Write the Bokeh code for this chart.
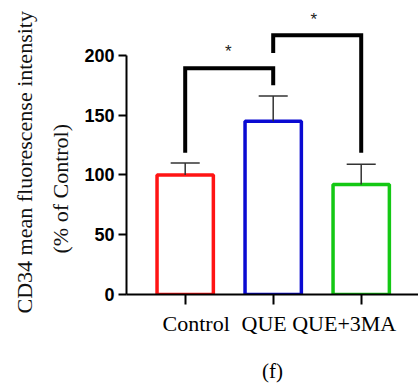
from bokeh.plotting import figure
from bokeh.models import Range1d, FixedTicker, LinearAxis, Title, ColumnDataSource
from bokeh.core.properties import value
from bokeh.embed import file_html
from bokeh.resources import INLINE

# ---- data ----
groups = ["Control", "QUE", "QUE+3MA"]
group_x = [1, 2, 3]
means = [100, 145, 92]
err_top = [110, 166, 109]
bar_colors = ["#ff1414", "#0a0ad2", "#14c814"]
y_ticks = [0, 50, 100, 150, 200]

# significance brackets
br_left = [1, 2]
br_right = [2, 3]
br_left_bottom = [118.6, 202]
br_top = [189.4, 217]
br_right_bottom = [175, 118.6]
star_x = [1.49, 2.46]
star_y = [203.5, 230.5]

# label nudges (pixels, layout only)
label_shift_px = [11, -9, -17]

PX_PER_UNIT = 88.0
p = figure(width=418, height=386, output_backend="svg", toolbar_location=None,
           x_range=Range1d(0.333, 3.651), y_range=Range1d(0, 246.0),
           min_border_left=126, min_border_right=0, min_border_top=0,
           min_border_bottom=92, x_axis_type=None)
p.outline_line_color = None
p.grid.visible = False
p.background_fill_color = "white"

# bars
src = ColumnDataSource(dict(x=group_x, top=means, color=bar_colors))
p.vbar(x="x", top="top", bottom=0, width=0.64, source=src, fill_color="white",
       line_color="color", line_width=3.5)

# error bars (upper only)
cap = 0.165
p.segment(x0=group_x, y0=means, x1=group_x, y1=err_top, line_color="#333333", line_width=1.5)
p.segment(x0=[x - cap for x in group_x], y0=err_top, x1=[x + cap for x in group_x],
          y1=err_top, line_color="#333333", line_width=1.5)

# brackets
xs = [[l, l, r, r] for l, r in zip(br_left, br_right)]
ys = [[lb, t, t, rb] for lb, t, rb in zip(br_left_bottom, br_top, br_right_bottom)]
p.multi_line(xs=xs, ys=ys, line_color="black", line_width=4, line_join="miter", line_cap="butt")
p.text(x=star_x, y=star_y, text=["*", "*"],
       text_font=value("Liberation Sans"), text_font_size="17px", text_align="center",
       text_baseline="middle", text_color="#222222")

# y axis
ya = p.yaxis[0]
ya.ticker = FixedTicker(ticks=y_ticks)
ya.bounds = (0, 200)
ya.axis_line_width = 2
ya.major_tick_line_width = 2
ya.major_tick_out = 8
ya.major_tick_in = 0
ya.minor_tick_line_color = None
ya.major_label_standoff = 4
ya.major_label_text_font = "Liberation Sans"
ya.major_label_text_font_style = "bold"
ya.major_label_text_font_size = "18px"
ya.major_label_text_color = "black"

# x axis: ticks only (labels not drawn)
xa = LinearAxis(ticker=FixedTicker(ticks=group_x))
xa.axis_line_width = 2
xa.major_tick_line_width = 2
xa.major_tick_out = 10
xa.major_tick_in = 0
xa.minor_tick_line_color = None
xa.major_label_text_font_size = "0px"
xa.major_label_text_color = None
xa.major_label_standoff = 0
p.add_layout(xa, "below")

# x labels axis, with the panel caption as its axis label
lab_pos = [x + s / PX_PER_UNIT for x, s in zip(group_x, label_shift_px)]
xl = LinearAxis(ticker=FixedTicker(ticks=lab_pos))
xl.axis_line_color = None
xl.major_tick_line_color = None
xl.minor_tick_line_color = None
xl.major_tick_out = 0
xl.major_tick_in = 0
xl.major_label_standoff = 6
xl.major_label_overrides = {pos: g for pos, g in zip(lab_pos, groups)}
xl.major_label_text_font = "Liberation Serif"
xl.major_label_text_font_size = "22px"
xl.major_label_text_color = "black"
xl.axis_label = "(f)"
xl.axis_label_standoff = 20
xl.axis_label_text_font = "Liberation Serif"
xl.axis_label_text_font_size = "21px"
xl.axis_label_text_font_style = "normal"
xl.axis_label_text_color = "black"
p.add_layout(xl, "below")

p.add_layout(Title(text="(% of Control)", align="left", offset=41, text_font="Liberation Serif",
                   text_font_size="22px", text_font_style="normal", text_color="#111111",
                   standoff=18), "left")
p.add_layout(Title(text="CD34 mean fluorescense intensity", align="left", offset=-19,
                   text_font="Liberation Serif", text_font_size="22px",
                   text_font_style="normal", text_color="#111111", standoff=0), "left")

open("out.html", "w").write(file_html(p, INLINE))
